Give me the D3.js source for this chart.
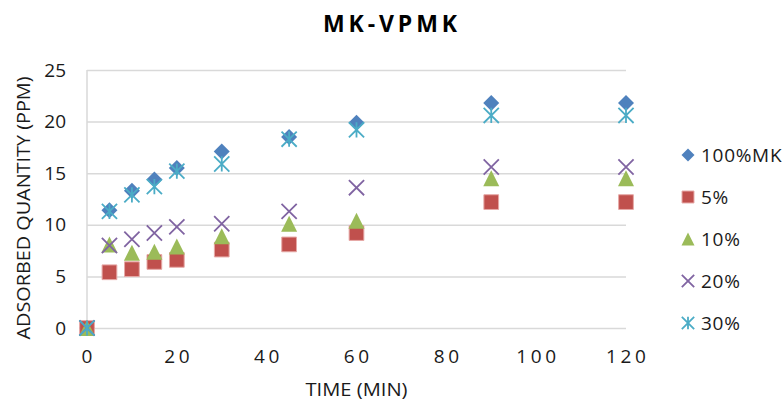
<!DOCTYPE html>
<html>
<head>
<meta charset="utf-8">
<script src="https://cdn.jsdelivr.net/npm/d3@7"></script>
<style>
  html, body { margin: 0; padding: 0; background: #fff; }
  svg { display: block; font-family: "Open Sans", "Noto Sans", sans-serif; }
</style>
</head>
<body>
<svg id="chart" width="784" height="400"></svg>
<script>
// Sampling times (min)
const times = [0, 5, 10, 15, 20, 30, 45, 60, 90, 120];

// Adsorbed quantity (ppm) per mixture
const mk100 = [0, 11.4, 13.3, 14.4, 15.5, 17.1, 18.5, 19.9, 21.8, 21.8];
const p5    = [0, 5.4, 5.7, 6.4, 6.6, 7.6, 8.1, 9.2, 12.2, 12.2];
const p10   = [0, 8.1, 7.3, 7.4, 7.9, 8.9, 10.1, 10.4, 14.5, 14.5];
const p20   = [0, 8.0, 8.6, 9.2, 9.8, 10.1, 11.3, 13.6, 15.6, 15.6];
const p30   = [0, 11.3, 12.9, 13.7, 15.2, 15.9, 18.3, 19.2, 20.6, 20.6];

const seriesNames = ["100%MK", "5%", "10%", "20%", "30%"];
const xTicks = [0, 20, 40, 60, 80, 100, 120];
const yTicks = [0, 5, 10, 15, 20, 25];

const title = "MK-VPMK";
const xTitle = "TIME (MIN)";
const yTitle = "ADSORBED QUANTITY (PPM)";

const series = [
  { name: seriesNames[0], values: mk100, shape: "diamond", color: "#4F81BD" },
  { name: seriesNames[1], values: p5,    shape: "square",  color: "#C0504D" },
  { name: seriesNames[2], values: p10,   shape: "triangle",color: "#9BBB59" },
  { name: seriesNames[3], values: p20,   shape: "cross",   color: "#8064A2" },
  { name: seriesNames[4], values: p30,   shape: "star",    color: "#4BACC6" }
];

const svg = d3.select("#chart");
const plot = { left: 87, right: 626, top: 70, bottom: 328 };

const x = d3.scaleLinear().domain([0, 120]).range([plot.left, plot.right]);
const y = d3.scaleLinear().domain([0, 25]).range([plot.bottom, plot.top]);

// Marker outline paths, centred on the origin, s = full width
function markerPath(shape, s) {
  const h = s / 2;
  const p = d3.path();
  if (shape === "diamond") {
    p.moveTo(0, -h); p.lineTo(h, 0); p.lineTo(0, h); p.lineTo(-h, 0); p.closePath();
  } else if (shape === "square") {
    const q = h * 0.92;
    p.rect(-q, -q, 2 * q, 2 * q);
  } else if (shape === "triangle") {
    p.moveTo(0, -h); p.lineTo(h, h); p.lineTo(-h, h); p.closePath();
  } else if (shape === "cross") {
    const q = h * 0.95;
    p.moveTo(-q, -q); p.lineTo(q, q); p.moveTo(q, -q); p.lineTo(-q, q);
  } else if (shape === "star") {
    const q = h * 0.95;
    p.moveTo(-q, -q); p.lineTo(q, q); p.moveTo(q, -q); p.lineTo(-q, q);
    p.moveTo(0, -q); p.lineTo(0, q);
  }
  return p.toString();
}

function drawMarker(g, shape, color, s) {
  const path = g.append("path").attr("d", markerPath(shape, s));
  if (shape === "cross" || shape === "star") {
    path.attr("fill", "none").attr("stroke", color).attr("stroke-width", 1.8);
  } else if (shape === "square") {
    path.attr("fill", color).attr("stroke", "#E6A8A6").attr("stroke-width", 1);
  } else {
    path.attr("fill", color);
  }
}

// Horizontal gridlines
const yAxis = d3.axisLeft(y).tickValues(yTicks).tickSize(-(plot.right - plot.left)).tickFormat("");
const gridG = svg.append("g").attr("transform", `translate(${plot.left},0)`).call(yAxis);
gridG.select(".domain").remove();
gridG.selectAll(".tick line").attr("stroke", "#D9D9D9").attr("stroke-width", 1.5);

// Vertical axis line
svg.append("line")
  .attr("x1", plot.left).attr("x2", plot.left)
  .attr("y1", y(25)).attr("y2", y(0))
  .attr("stroke", "#D9D9D9").attr("stroke-width", 1.5);

// Y tick labels
svg.append("g").selectAll("text").data(yTicks).join("text")
  .attr("x", 66).attr("y", d => y(d)).attr("dy", "0.35em")
  .attr("text-anchor", "end").attr("font-size", 19).attr("fill", "#1a1a1a")
  .text(d => d);

// X tick labels (slightly spaced digits)
svg.append("g").selectAll("text").data(xTicks).join("text")
  .attr("x", d => x(d)).attr("y", 363)
  .attr("text-anchor", "middle").attr("font-size", 19).attr("fill", "#1a1a1a")
  .attr("textLength", d => String(d).length * 10.9 + (String(d).length - 1) * 3.6)
  .attr("lengthAdjust", "spacing")
  .text(d => d);

// Series markers
series.forEach(s => {
  const g = svg.append("g");
  s.values.forEach((v, i) => {
    const mg = g.append("g").attr("transform", `translate(${x(times[i])},${y(v)})`);
    drawMarker(mg, s.shape, s.color, 16);
  });
});

// Title
svg.append("text")
  .attr("x", 390).attr("y", 32)
  .attr("text-anchor", "middle").attr("font-size", 23).attr("font-weight", "bold")
  .attr("fill", "#000").attr("textLength", 134).attr("lengthAdjust", "spacing")
  .text(title);

// Axis titles
svg.append("text")
  .attr("x", (plot.left + plot.right) / 2).attr("y", 396)
  .attr("text-anchor", "middle").attr("font-size", 18).attr("fill", "#1a1a1a")
  .attr("textLength", 102).attr("lengthAdjust", "spacingAndGlyphs")
  .text(xTitle);

svg.append("text")
  .attr("transform", `translate(30,208) rotate(-90)`)
  .attr("text-anchor", "middle").attr("font-size", 18).attr("fill", "#1a1a1a")
  .attr("textLength", 263).attr("lengthAdjust", "spacingAndGlyphs")
  .text(yTitle);

// Legend
const legend = svg.append("g");
series.forEach((s, i) => {
  const ly = 155 + i * 42;
  const mg = legend.append("g").attr("transform", `translate(688,${ly})`);
  drawMarker(mg, s.shape, s.color, 13);
  legend.append("text")
    .attr("x", 701).attr("y", ly).attr("dy", "0.36em")
    .attr("font-size", 19).attr("letter-spacing", 0.7).attr("fill", "#1a1a1a")
    .text(s.name);
});
</script>
</body>
</html>
